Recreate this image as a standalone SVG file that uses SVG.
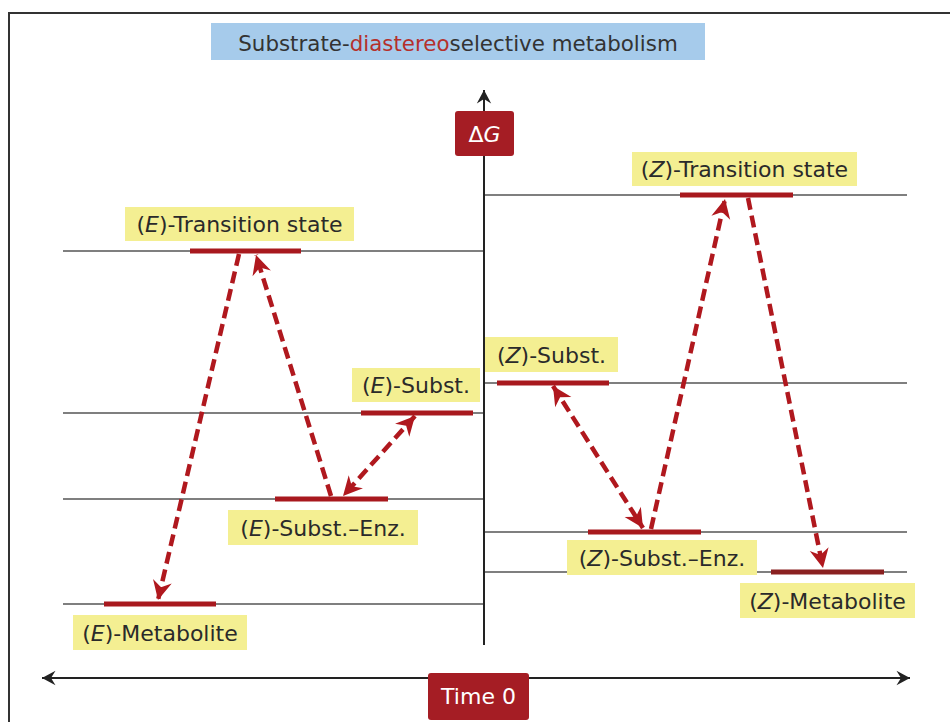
<svg xmlns="http://www.w3.org/2000/svg" width="950" height="722" viewBox="0 0 950 722">
<defs>
<style>
.lbl{font-family:"DejaVu Sans","Verdana",sans-serif;font-size:22px;fill:#2a2a2a}
.ybox{fill:#f4ef92}
.grid{stroke:#555;stroke-width:1.5;fill:none}
.bar{stroke:#a8191e;stroke-width:5;fill:none}
.dash{stroke:#b0181e;stroke-width:4.5;fill:none;stroke-dasharray:12 6}
.axis{stroke:#222;stroke-width:2;fill:none}
.rbox{fill:#a51d24}
.wt{font-family:"DejaVu Sans","Verdana",sans-serif;font-size:22px;fill:#fff}
</style>
<marker id="ah" viewBox="0 0 20 20" refX="18" refY="10" markerWidth="24" markerHeight="24" markerUnits="userSpaceOnUse" orient="auto-start-reverse">
<path d="M18,10 L2,2 L7,10 L2,18 Z" fill="#b0181e"/>
</marker>
<marker id="ax" viewBox="0 0 20 20" refX="18" refY="10" markerWidth="18" markerHeight="18" markerUnits="userSpaceOnUse" orient="auto-start-reverse">
<path d="M18,10 L3,2 L8,10 L3,18 Z" fill="#222"/>
</marker>
</defs>
<rect width="950" height="722" fill="#fff"/>
<path d="M9,722 V13 H950" stroke="#333" stroke-width="2" fill="none"/>

<g id="title">
<rect x="211" y="23" width="494" height="37" fill="#a6cbeb"/>
<text x="458" y="51" text-anchor="middle" class="lbl" style="font-size:21.4px;fill:#333">Substrate-<tspan fill="#b5302b">diastereo</tspan>selective metabolism</text>
</g>

<g id="gridlines">
<line class="grid" x1="63" y1="251" x2="484" y2="251"/>
<line class="grid" x1="63" y1="413" x2="484" y2="413"/>
<line class="grid" x1="63" y1="499" x2="484" y2="499"/>
<line class="grid" x1="63" y1="604" x2="484" y2="604"/>
<line class="grid" x1="484" y1="195" x2="907" y2="195"/>
<line class="grid" x1="484" y1="383" x2="907" y2="383"/>
<line class="grid" x1="484" y1="532" x2="907" y2="532"/>
<line class="grid" x1="484" y1="572" x2="907" y2="572"/>
</g>

<g id="axes">
<line class="axis" x1="484" y1="645" x2="484" y2="90" marker-end="url(#ax)"/>
<line class="axis" x1="42" y1="678" x2="910" y2="678" marker-start="url(#ax)" marker-end="url(#ax)"/>
</g>

<g id="dG">
<rect class="rbox" x="455" y="111" width="59" height="45" rx="3"/>
<text x="484.5" y="142" text-anchor="middle" class="wt">Δ<tspan font-style="italic">G</tspan></text>
</g>
<g id="time0">
<rect class="rbox" x="428" y="673" width="101" height="47" rx="3"/>
<text x="478.5" y="704" text-anchor="middle" class="wt">Time 0</text>
</g>

<g id="E-TS">
<line class="bar" x1="190" y1="251" x2="301" y2="251"/>
<rect class="ybox" x="125" y="207" width="229" height="34"/>
<text x="239.5" y="232" text-anchor="middle" class="lbl">(<tspan font-style="italic">E</tspan>)-Transition state</text>
</g>
<g id="E-Subst">
<line class="bar" x1="361" y1="413" x2="473" y2="413"/>
<rect class="ybox" x="352" y="368" width="128" height="34"/>
<text x="416" y="393" text-anchor="middle" class="lbl">(<tspan font-style="italic">E</tspan>)-Subst.</text>
</g>
<g id="E-SubstEnz">
<line class="bar" x1="275" y1="499" x2="388" y2="499"/>
<rect class="ybox" x="228" y="510" width="190" height="35"/>
<text x="323" y="536" text-anchor="middle" class="lbl">(<tspan font-style="italic">E</tspan>)-Subst.–Enz.</text>
</g>
<g id="E-Metabolite">
<line class="bar" x1="104" y1="604" x2="216" y2="604"/>
<rect class="ybox" x="73" y="615" width="174" height="35"/>
<text x="160" y="641" text-anchor="middle" class="lbl">(<tspan font-style="italic">E</tspan>)-Metabolite</text>
</g>
<g id="Z-TS">
<line class="bar" x1="680" y1="195" x2="793" y2="195"/>
<rect class="ybox" x="632" y="152" width="225" height="34"/>
<text x="744.5" y="177" text-anchor="middle" class="lbl">(<tspan font-style="italic">Z</tspan>)-Transition state</text>
</g>
<g id="Z-Subst">
<line class="bar" x1="497" y1="383" x2="609" y2="383"/>
<rect class="ybox" x="485" y="337" width="133" height="35"/>
<text x="551.5" y="363" text-anchor="middle" class="lbl">(<tspan font-style="italic">Z</tspan>)-Subst.</text>
</g>
<g id="Z-SubstEnz">
<line class="bar" x1="588" y1="532" x2="701" y2="532"/>
<rect class="ybox" x="567" y="540" width="190" height="35"/>
<text x="662" y="566" text-anchor="middle" class="lbl">(<tspan font-style="italic">Z</tspan>)-Subst.–Enz.</text>
</g>
<g id="Z-Metabolite">
<line class="bar" x1="771" y1="572" x2="884" y2="572" style="stroke:#8a2020"/>
<rect class="ybox" x="740" y="583" width="175" height="35"/>
<text x="827.5" y="609" text-anchor="middle" class="lbl">(<tspan font-style="italic">Z</tspan>)-Metabolite</text>
</g>

<g id="connectors">
<line class="dash" x1="239" y1="254" x2="158" y2="600" marker-end="url(#ah)"/>
<line class="dash" x1="331" y1="496" x2="256" y2="255" marker-end="url(#ah)"/>
<line class="dash" x1="415" y1="416" x2="343" y2="496" marker-start="url(#ah)" marker-end="url(#ah)"/>
<line class="dash" x1="553" y1="386" x2="643" y2="528" marker-start="url(#ah)" marker-end="url(#ah)"/>
<line class="dash" x1="651" y1="529" x2="725" y2="199" marker-end="url(#ah)"/>
<line class="dash" x1="748" y1="198" x2="823" y2="568" marker-end="url(#ah)"/>
</g>
</svg>
